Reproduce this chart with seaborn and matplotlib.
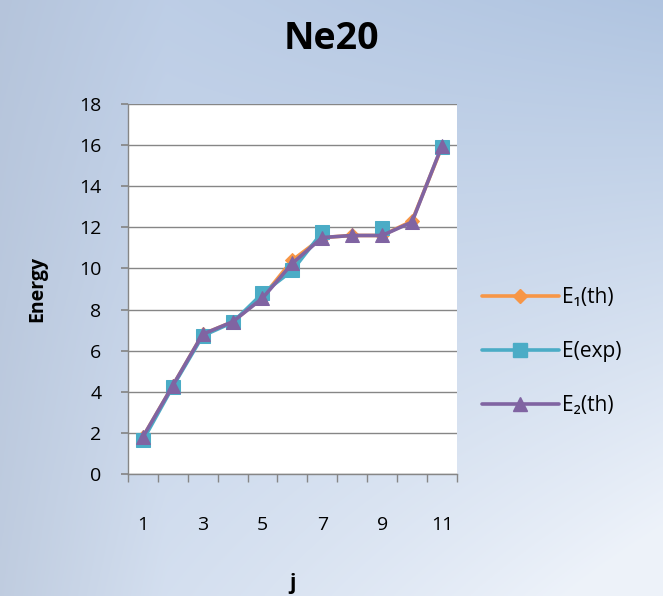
import numpy as np
import pandas as pd
import matplotlib
matplotlib.use("Agg")
import matplotlib.pyplot as plt
import seaborn as sns

j = list(range(1, 12))
e1_th = [1.8, 4.3, 6.8, 7.4, 8.6, 10.4, 11.5, 11.6, 11.6, 12.3, 15.9]
e_exp = [1.63, 4.25, 6.72, 7.37, 8.78, 9.9, 11.76, np.nan, 11.95, np.nan, 15.92]
e2_th = [1.8, 4.3, 6.8, 7.4, 8.55, 10.25, 11.5, 11.6, 11.6, 12.25, 15.95]
series_names = ["E\u2081(th)", "E(exp)", "E\u2082(th)"]
colors = ["#F79646", "#4BACC6", "#8064A2"]
markers = ["D", "s", "^"]
y_ticks = list(range(0, 19, 2))
x_ticklabels = ["1", "", "3", "", "5", "", "7", "", "9", "", "11"]

sns.set_theme(style="white")
plt.rcParams["font.family"] = ["Open Sans", "DejaVu Sans"]
plt.rcParams["text.color"] = "black"
plt.rcParams["axes.labelcolor"] = "black"
plt.rcParams["xtick.color"] = "black"
plt.rcParams["ytick.color"] = "black"

fig = plt.figure(figsize=(6.63, 5.96), dpi=100)

# background gradient
bg = fig.add_axes([0, 0, 1, 1], zorder=-10)
H, W = 300, 330
yy, xx = np.mgrid[0:H, 0:W]
xn = xx / (W - 1)
yn = yy / (H - 1)
t = np.clip(0.55 * xn * yn * 1.6 + 0.25 * yn, 0, 1)
top = np.array([0.76, 0.82, 0.91])
mid = np.array([0.69, 0.77, 0.88])
light = np.array([0.93, 0.95, 0.98])
left_boost = np.clip(1 - xn * 4, 0, 1)[..., None] * 0.05
base = top[None, None, :] * (1 - xn[..., None]) + mid[None, None, :] * xn[..., None]
img = base * (1 - t[..., None]) + light[None, None, :] * t[..., None] - left_boost
bg.imshow(np.clip(img, 0, 1), aspect="auto", extent=[0, 1, 0, 1])
bg.axis("off")

ax = fig.add_axes([0.193, 0.2047, 0.496, 0.621])
ax.set_facecolor("white")

rows = []
for name, vals in zip(series_names, [e1_th, e_exp, e2_th]):
    seg = 0
    for jj, v in zip(j, vals):
        if np.isnan(v):
            seg += 1
        rows.append({"j": jj, "Energy": v, "series": name, "seg": seg})
df = pd.DataFrame(rows)

handles = []
for name, col, mk, ms in zip(series_names, colors, markers, [7, 10, 10]):
    sub = df[df["series"] == name].dropna()
    for k, (s, part) in enumerate(sub.groupby("seg")):
        sns.lineplot(data=part, x="j", y="Energy", ax=ax, color=col, marker=mk,
                     markersize=ms, markeredgecolor=col, linewidth=2.6,
                     legend=False)
    handles.append(plt.Line2D([], [], color=col, marker=mk, markersize=ms,
                              markeredgecolor=col, linewidth=2.6, label=name))

ax.set_xlim(0.5, 11.5)
ax.set_ylim(0, 18)
ax.set_yticks(y_ticks)
ax.set_yticklabels([str(v) for v in y_ticks], fontsize=14)
ax.yaxis.grid(True, color="#868686", linewidth=1.0)
ax.xaxis.grid(False)
ax.set_xticks(j)
ax.set_xticklabels(x_ticklabels, fontsize=14)
ax.tick_params(axis="x", length=0, pad=30)
ax.tick_params(axis="y", length=5, color="#868686", direction="out", left=True, pad=14)
ax.set_xticks(np.arange(0.5, 12, 1), minor=True)
ax.tick_params(axis="x", which="minor", length=6, color="#868686", direction="out", bottom=True)
for side in ["top", "right"]:
    ax.spines[side].set_visible(False)
for side in ["left", "bottom"]:
    ax.spines[side].set_color("#868686")
    ax.spines[side].set_linewidth(1.0)

ax.set_xlabel("j", fontsize=15, fontweight="bold", labelpad=28)
ax.set_ylabel("Energy", fontsize=14, fontweight="bold", labelpad=23)
fig.text(0.5, 0.935, "Ne20", ha="center", va="center", fontsize=27, fontweight="bold")

leg = fig.legend(handles=handles, loc="center left", bbox_to_anchor=(0.698, 0.41),
                 frameon=False, fontsize=15, handlelength=3.7, labelspacing=1.6,
                 handletextpad=0.15)

fig.savefig("out.png", dpi=100)
